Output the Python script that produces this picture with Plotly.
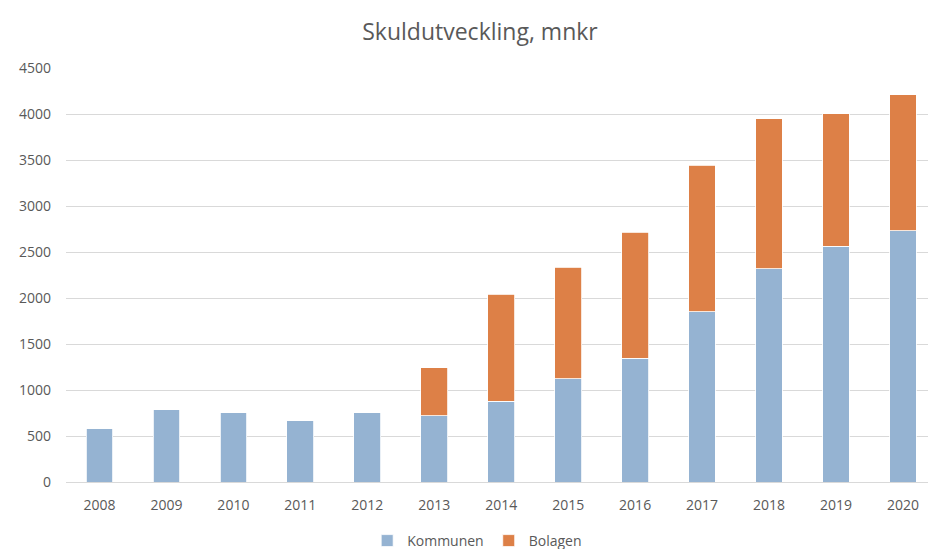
import plotly.graph_objects as go

years = ["2008", "2009", "2010", "2011", "2012", "2013", "2014",
         "2015", "2016", "2017", "2018", "2019", "2020"]
kommunen = [582, 788, 755, 665, 755, 718, 876, 1120, 1347, 1848, 2316, 2562, 2733]
totals = [582, 788, 755, 665, 755, 1242, 2041, 2335, 2715, 3444, 3949, 4002, 4208]
bolagen = [t - k for t, k in zip(totals, kommunen)]
y_ticks = [0, 500, 1000, 1500, 2000, 2500, 3000, 3500, 4000, 4500]

FONT = "'Open Sans', sans-serif"
GRAY = "#595959"

fig = go.Figure()
fig.add_trace(go.Bar(x=years, y=kommunen, name="Kommunen",
                     marker=dict(color="#95b3d2", line=dict(color="white", width=0.8))))
fig.add_trace(go.Bar(x=years, y=bolagen, name="Bolagen",
                     marker=dict(color="#dd8047", line=dict(color="white", width=0.8))))

fig.update_layout(
    barmode="stack",
    bargap=0.6,
    width=928, height=549,
    paper_bgcolor="white", plot_bgcolor="white",
    margin=dict(l=65.5, r=0, t=68, b=67, autoexpand=False),
    title=dict(text="Skuldutveckling, mnkr", x=480 / 928, xanchor="center",
               y=1 - 32 / 549, yanchor="middle",
               font=dict(family=FONT, size=23, color=GRAY)),
    font=dict(family=FONT, size=14, color=GRAY),
    legend=dict(orientation="h", x=0.477, xanchor="center",
                yref="container", y=1 - 541 / 549, yanchor="middle",
                font=dict(family=FONT, size=14, color=GRAY), traceorder="normal",
                itemwidth=30),
    showlegend=True,
)
fig.update_xaxes(type="category", range=[-0.5, 12.374], showgrid=False,
                 showline=True, linecolor="#d9d9d9", linewidth=1, automargin=False,
                 ticks="", ticklabelstandoff=10, tickfont=dict(size=14, color=GRAY))
fig.update_yaxes(range=[0, 4500], tickvals=y_ticks, showgrid=True,
                 gridcolor="#d9d9d9", gridwidth=1, zeroline=False, automargin=False,
                 ticks="", ticklabelstandoff=14, tickfont=dict(size=14, color=GRAY))

fig.write_html("out.html", config={"displayModeBar": False},
               post_script="document.body.style.margin='0px';")
